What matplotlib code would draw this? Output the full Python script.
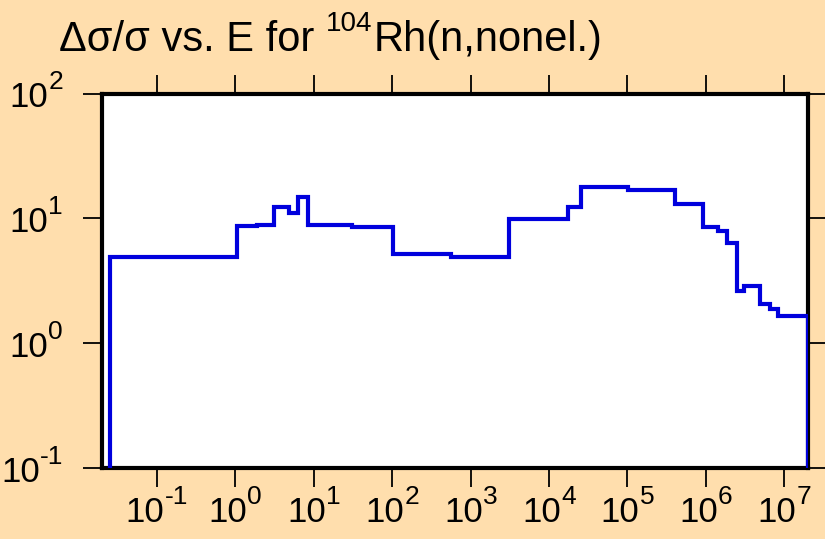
import matplotlib
matplotlib.use('Agg')
import matplotlib.pyplot as plt
from matplotlib.ticker import NullLocator, NullFormatter

# Data: bin edges (eV) and relative uncertainty (%) per bin
energy_edges = [0.0253, 1.05, 1.9, 3.1, 4.9, 6.3, 8.4, 31, 103, 567, 3060,
                17400, 25600, 1.02e5, 4.0e5, 9.2e5, 1.43e6, 1.88e6, 2.51e6,
                3.05e6, 4.83e6, 6.47e6, 8.24e6, 2.0e7]
rel_unc = [4.9, 8.7, 8.9, 12.4, 11.0, 14.7, 8.8, 8.6, 5.2, 4.9, 9.9, 12.3,
           17.9, 16.8, 13.0, 8.6, 7.9, 6.3, 2.6, 2.85, 2.05, 1.87, 1.65]
x_exponents = [-1, 0, 1, 2, 3, 4, 5, 6, 7]
y_exponents = [-1, 0, 1, 2]
x_limits = (0.02, 2.0e7)
y_limits = (0.1, 100)
title_main = "\u0394\u03c3/\u03c3 vs. E for "
title_sup = "104"
title_rest = "Rh(n,nonel.)"

plt.rcParams['font.family'] = ['Liberation Sans', 'DejaVu Sans']

W, H = 825, 539
bg = '#FFDEAD'
fig = plt.figure(figsize=(W / 100, H / 100), dpi=100, facecolor=bg)
ax = fig.add_axes([102 / W, 1 - 468 / H, 706 / W, 374.5 / H])
ax.set_facecolor('white')

ax.stairs(rel_unc, energy_edges, baseline=y_limits[0], fill=False,
          color='#0000DD', linewidth=3.0, zorder=3)

ax.set_xscale('log')
ax.set_yscale('log')
ax.set_xticks([10.0 ** e for e in x_exponents])
ax.set_yticks([10.0 ** e for e in y_exponents])
ax.xaxis.set_minor_locator(NullLocator())
ax.yaxis.set_minor_locator(NullLocator())
ax.xaxis.set_major_formatter(NullFormatter())
ax.yaxis.set_major_formatter(NullFormatter())
ax.set_xlim(*x_limits)
ax.set_ylim(*y_limits)

for s in ax.spines.values():
    s.set_linewidth(3.0)
    s.set_color('black')

ax.tick_params(axis='both', which='major', direction='out', length=14,
               width=1.3, color='black',
               top=True, right=True, labeltop=False, labelright=False,
               labelbottom=False, labelleft=False)

fig.canvas.draw()
r = fig.canvas.get_renderer()

BASE_FS = 25
EXP_FS = 19


def px_text(x, y_base, s, fs):
    # x, y_base in pixels from the top-left corner; y is the baseline
    return fig.text(x / W, 1 - y_base / H, s, fontsize=fs, va='baseline', ha='left')


def width_of(t):
    return t.get_window_extent(renderer=r).width


# x tick labels
for e in x_exponents:
    xd, _ = ax.transData.transform((10.0 ** e, 1.0))
    tb = px_text(0, 522, "10", BASE_FS)
    te = px_text(0, 522 - 18, str(e), EXP_FS)
    wb, we = width_of(tb), width_of(te)
    total = wb + we
    x0 = xd - total / 2
    tb.set_x(x0 / W)
    te.set_x((x0 + wb) / W)

# y tick labels
for e in y_exponents:
    _, yd = ax.transData.transform((1.0, 10.0 ** e))
    ytop = H - yd
    tb = px_text(0, ytop + 13.5, "10", BASE_FS)
    te = px_text(0, ytop + 13.5 - 18, str(e), EXP_FS)
    wb, we = width_of(tb), width_of(te)
    right = 63
    te.set_x((right - we) / W)
    tb.set_x((right - we - wb) / W)

# Title composed of pieces with a smaller superscript
t1 = px_text(59, 51, title_main, 30)
bb = t1.get_window_extent(renderer=r)
t2 = fig.text(bb.x1 / W, 1 - (51 - 20) / H, title_sup, fontsize=20,
              va='baseline', ha='left')
bb2 = t2.get_window_extent(renderer=r)
fig.text((bb2.x1 + 1) / W, 1 - 51 / H, title_rest, fontsize=30,
         va='baseline', ha='left')

fig.savefig('out.png', dpi=100, facecolor=bg)
